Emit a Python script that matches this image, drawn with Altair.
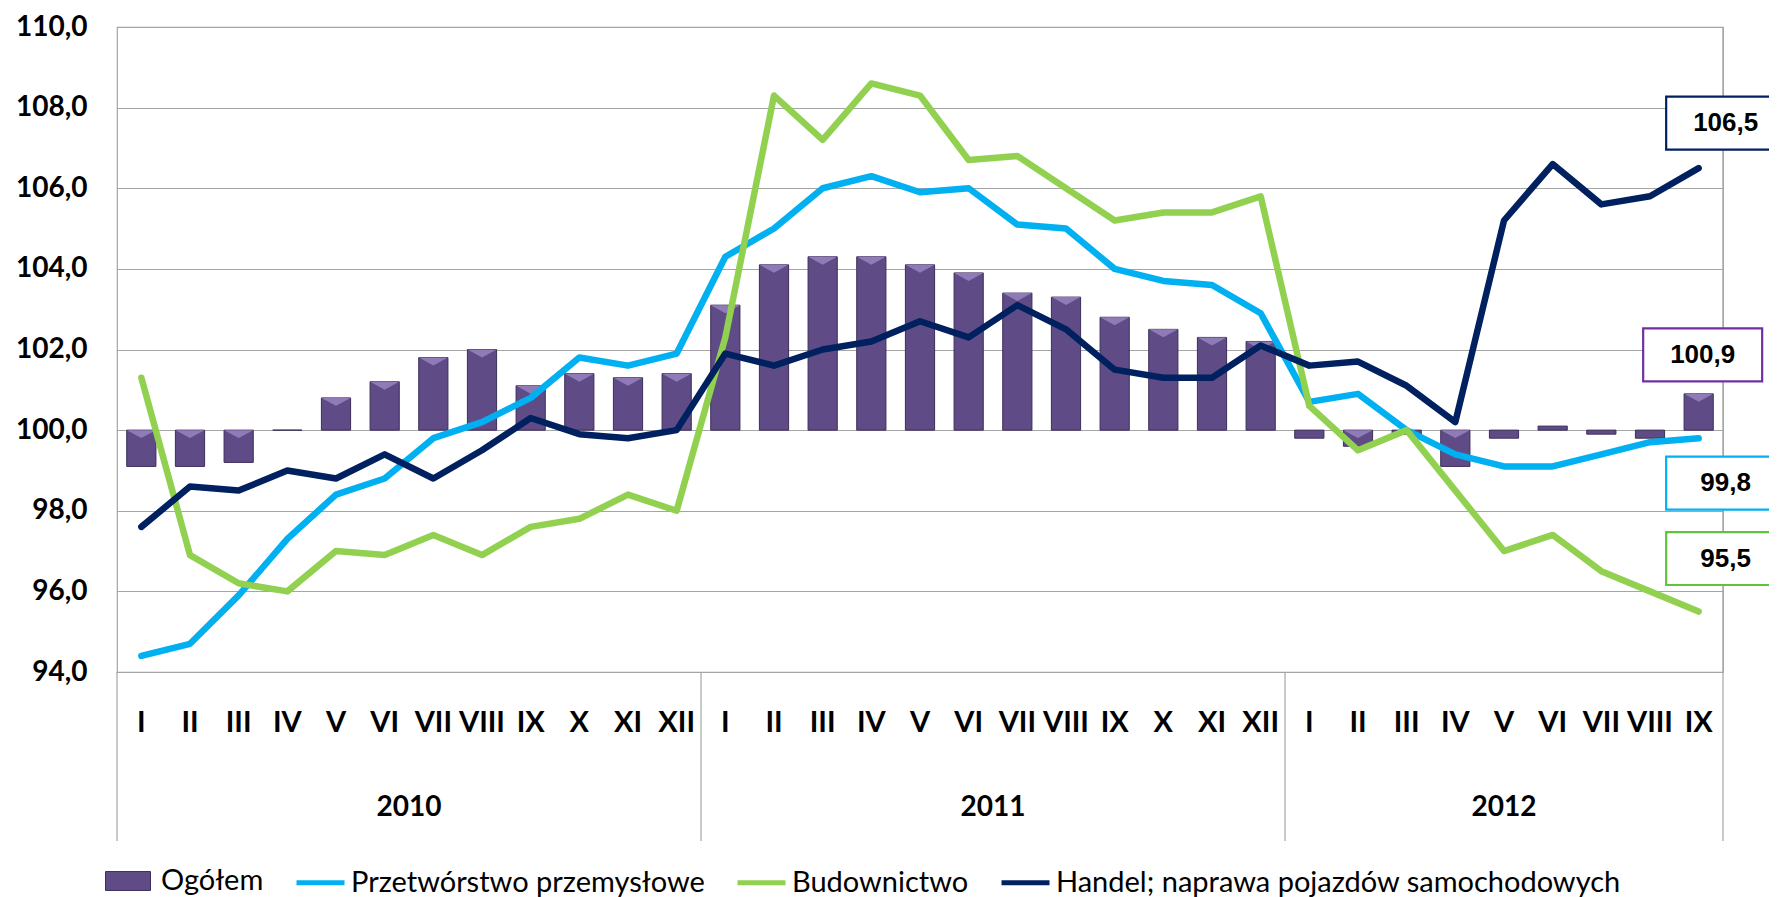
import altair as alt
import pandas as pd

# ---------------- data ----------------
months = ["I", "II", "III", "IV", "V", "VI", "VII", "VIII", "IX", "X", "XI", "XII"]
years = ["2010", "2011", "2012"]
months_per_year = [12, 12, 9]

ogolem = [99.1, 99.1, 99.2, 100.0, 100.8, 101.2, 101.8, 102.0, 101.1, 101.4, 101.3, 101.4,
          103.1, 104.1, 104.3, 104.3, 104.1, 103.9, 103.4, 103.3, 102.8, 102.5, 102.3, 102.2,
          99.8, 99.6, 99.9, 99.1, 99.8, 100.1, 99.9, 99.8, 100.9]
przetworstwo = [94.4, 94.7, 95.9, 97.3, 98.4, 98.8, 99.8, 100.2, 100.8, 101.8, 101.6, 101.9,
                104.3, 105.0, 106.0, 106.3, 105.9, 106.0, 105.1, 105.0, 104.0, 103.7, 103.6, 102.9,
                100.7, 100.9, 100.0, 99.4, 99.1, 99.1, 99.4, 99.7, 99.8]
budownictwo = [101.3, 96.9, 96.2, 96.0, 97.0, 96.9, 97.4, 96.9, 97.6, 97.8, 98.4, 98.0,
               102.3, 108.3, 107.2, 108.6, 108.3, 106.7, 106.8, 106.0, 105.2, 105.4, 105.4, 105.8,
               100.6, 99.5, 100.0, 98.5, 97.0, 97.4, 96.5, 96.0, 95.5]
handel = [97.6, 98.6, 98.5, 99.0, 98.8, 99.4, 98.8, 99.5, 100.3, 99.9, 99.8, 100.0,
          101.9, 101.6, 102.0, 102.2, 102.7, 102.3, 103.1, 102.5, 101.5, 101.3, 101.3, 102.1,
          101.6, 101.7, 101.1, 100.2, 105.2, 106.6, 105.6, 105.8, 106.5]

series_names = ["Ogółem", "Przetwórstwo przemysłowe", "Budownictwo",
                "Handel; naprawa pojazdów samochodowych"]
y_ticks = [94, 96, 98, 100, 102, 104, 106, 108, 110]

# ---------------- styles ----------------
BAR_COLOR = "#5f4c86"
BAR_EDGE = "#3b2e5a"
BEVEL_COLOR = "#8f7bb8"
LINE_COLORS = ["#00b0f0", "#92d050", "#002060"]
BOX_COLORS = {"Ogółem": "#7030a0", "Przetwórstwo przemysłowe": "#00b0f0",
              "Budownictwo": "#5ec43c", "Handel; naprawa pojazdów samochodowych": "#002060"}
# label box offsets in pixels (dx, dy) relative to the last data point
BOX_OFFSETS = {"Ogółem": (4, -39), "Przetwórstwo przemysłowe": (27, 45),
               "Budownictwo": (27, -53), "Handel; naprawa pojazdów samochodowych": (27, -45)}
GRID = "#a5a5a5"
W, H = 1606, 645

cats = [f"{y}-{m}" for y, n in zip(years, months_per_year) for m in months[:n]]

rows = []
for name, vals in zip(series_names, [ogolem, przetworstwo, budownictwo, handel]):
    for c, v in zip(cats, vals):
        rows.append({"cat": c, "series": name, "value": v,
                     "label": f"{v:.1f}".replace(".", ",")})
df = pd.DataFrame(rows)
df["base"] = 100.0

x_scale = alt.Scale(type="band", domain=cats, paddingInner=0, paddingOuter=0)
x_axis = alt.Axis(title=None, labelExpr="split(datum.value, '-')[1]", labelAngle=0,
                  labelFont="Lato", labelFontWeight="bold", labelFontSize=29,
                  labelColor="black", labelPadding=50, labelBaseline="middle",
                  ticks=False, domain=False, grid=False, labelOverlap=False)


def xenc(**kw):
    return alt.X("cat:N", sort=cats, scale=x_scale, axis=x_axis, title=None, **kw)


y_enc = alt.Y("value:Q", scale=alt.Scale(domain=[94, 110], nice=False, zero=False),
              axis=alt.Axis(values=y_ticks, title=None,
                            labelExpr="replace(format(datum.value, '.1f'), '.', ',')",
                            labelFont="Lato", labelFontWeight="bold", labelFontSize=28,
                            labelColor="black", labelPadding=30, ticks=False, domain=False,
                            gridColor=GRID, gridWidth=1.2))

base_og = alt.Chart(df[df.series == "Ogółem"])

bars = base_og.mark_bar(width={"band": 0.6}, stroke=BAR_EDGE, strokeWidth=1).encode(
    x=xenc(), y=y_enc, y2="base:Q",
    fill=alt.Fill("series:N", scale=alt.Scale(domain=["Ogółem"], range=[BAR_COLOR]),
                  legend=alt.Legend(orient="none", legendX=-12, legendY=831,
                                    direction="horizontal", title=None,
                                    symbolType="M-1,-0.42L1,-0.42L1,0.42L-1,0.42Z",
                                    symbolSize=2025, symbolStrokeColor=BAR_EDGE,
                                    symbolStrokeWidth=1, labelFont="Lato", labelFontSize=29,
                                    labelColor="black", labelOffset=10, labelLimit=1000,
                                    padding=0)))

bevel = base_og.transform_calculate(top="max(datum.value, 100)").transform_filter(
    "abs(datum.value - 100) >= 0.25").mark_point(
    shape="M-1,0L1,0L0,0.55Z", size=841, filled=True, color=BEVEL_COLOR,
    strokeWidth=0, opacity=1).encode(x=xenc(), y=alt.Y("top:Q"))

stroke_enc = alt.Stroke("series:N", scale=alt.Scale(domain=series_names[1:], range=LINE_COLORS),
                        legend=alt.Legend(orient="none", legendX=177, legendY=829,
                                          direction="horizontal", title=None,
                                          symbolType="stroke", symbolSize=2304,
                                          symbolStrokeWidth=5, labelFont="Lato",
                                          labelFontSize=29, labelColor="black",
                                          labelOffset=4, labelLimit=1000,
                                          columnPadding=22, padding=0))

lines = [alt.Chart(df[df.series == s]).mark_line(strokeWidth=6.5, strokeCap="round",
                                                 strokeJoin="round").encode(
    x=xenc(), y=alt.Y("value:Q"), stroke=stroke_enc) for s in series_names[1:]]

# separators of the category axis area
sep_df = pd.DataFrame({"cat": [f"{y}-I" for y in years]})
seps = alt.Chart(sep_df).mark_rule(color=GRID, strokeWidth=1.2).encode(
    x=xenc(bandPosition=0), y=alt.value(H), y2=alt.value(H + 169))
end_sep = alt.Chart(pd.DataFrame({"cat": [cats[-1]]})).mark_rule(color=GRID, strokeWidth=1.2).encode(
    x=xenc(bandPosition=1), y=alt.value(0), y2=alt.value(H + 169))

# year labels: centered under each year's months
full_years = pd.DataFrame({"cat": [f"{y}-VII" for y, n in zip(years, months_per_year) if n == 12],
                           "year": [y for y, n in zip(years, months_per_year) if n == 12]})
part_years = pd.DataFrame({"cat": [f"{y}-{months[n // 2]}" for y, n in zip(years, months_per_year) if n != 12],
                           "year": [y for y, n in zip(years, months_per_year) if n != 12]})
ytxt = dict(font="Lato", fontWeight="bold", fontSize=28, color="black", baseline="middle",
            align="center")
year_a = alt.Chart(full_years).mark_text(**ytxt).encode(
    x=xenc(bandPosition=0), y=alt.value(H + 136), text="year:N")
year_b = alt.Chart(part_years).mark_text(**ytxt).encode(
    x=xenc(bandPosition=0.5), y=alt.value(H + 136), text="year:N")

# value boxes for the last month
last = df[df.cat == cats[-1]]
boxes = []
for s in series_names:
    dx, dy = BOX_OFFSETS[s]
    d = alt.Chart(last[last.series == s])
    boxes.append(d.mark_point(shape="M-1,-0.445L1,-0.445L1,0.445L-1,0.445Z", size=14161,
                              filled=True, fill="white", stroke=BOX_COLORS[s], strokeWidth=2.2,
                              opacity=1, xOffset=dx, yOffset=dy).encode(x=xenc(), y=alt.Y("value:Q")))
    boxes.append(d.mark_text(font="Liberation Sans", fontWeight="bold", fontSize=26,
                             color="black", baseline="middle", align="center",
                             xOffset=dx, yOffset=dy).encode(x=xenc(), y=alt.Y("value:Q"),
                                                            text="label:N"))

chart = alt.layer(bars, bevel, *lines, seps, end_sep, year_a, year_b, *boxes).properties(
    width=W, height=H,
    padding={"left": 109, "top": 19, "right": 46, "bottom": 225},
    autosize=alt.AutoSizeParams(type="none"),
).configure_view(stroke=GRID, strokeWidth=1.2)

chart.save("out.html", embed_options={"renderer": "svg", "actions": False})
